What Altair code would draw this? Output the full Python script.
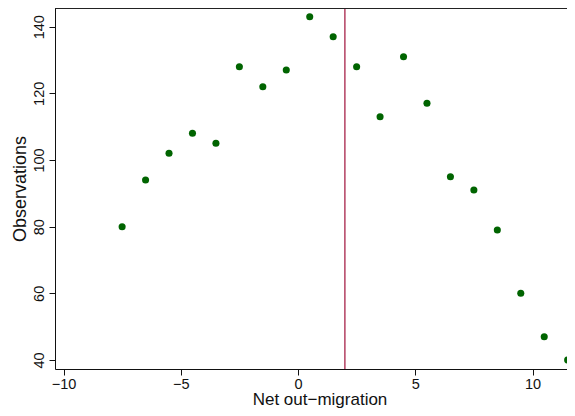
import altair as alt
import pandas as pd

# Data
net_out_migration = [-7.5, -6.5, -5.5, -4.5, -3.5, -2.5, -1.5, -0.5, 0.5, 1.5,
                     2.5, 3.5, 4.5, 5.5, 6.5, 7.5, 8.5, 9.5, 10.5, 11.5]
observations = [80, 94, 102, 108, 105, 128, 122, 127, 143, 137,
                128, 113, 131, 117, 95, 91, 79, 60, 47, 40]
cutoff = [2]
x_ticks = [-10, -5, 0, 5, 10]
y_ticks = [40, 60, 80, 100, 120, 140]

df = pd.DataFrame({"x": net_out_migration, "y": observations})
cut_df = pd.DataFrame({"x": cutoff})

W, H = 512, 361
FONT = "Liberation Sans"

xscale = alt.Scale(domain=[-10.3625, 11.471], nice=False, zero=False)
yscale = alt.Scale(domain=[37.3, 145.6], nice=False, zero=False)

points = alt.Chart(df).mark_circle(size=50, color="#006400", opacity=1, clip=True).encode(
    x=alt.X("x:Q", scale=xscale,
            axis=alt.Axis(title="Net out\u2212migration", values=x_ticks, grid=False,
                          tickSize=6, labelPadding=2, labelFontSize=14.5,
                          labelFont=FONT, labelColor="#111", titleFont=FONT,
                          titleFontSize=17, titleFontWeight="normal", titleColor="#111",
                          titleX=264.5, titleY=35, titleAlign="center",
                          titleBaseline="alphabetic", domainColor="#111",
                          tickColor="#111", labelFlush=False)),
    y=alt.Y("y:Q", scale=yscale,
            axis=alt.Axis(title="Observations", values=y_ticks, grid=False,
                          tickSize=6, labelPadding=6, labelFontSize=14.5,
                          labelAngle=270, labelAlign="center", labelBaseline="alphabetic",
                          labelFont=FONT, labelColor="#111", titleFont=FONT,
                          titleFontSize=18, titleFontWeight="normal", titleColor="#111",
                          titleAngle=270, titleX=-30, titleY=H / 2, titleAlign="center",
                          titleBaseline="alphabetic", domainColor="#111",
                          tickColor="#111", labelFlush=False)),
)

vline = alt.Chart(cut_df).mark_rule(color="#A0103A", strokeWidth=1.2).encode(
    x=alt.X("x:Q", scale=xscale),
)

top_border = alt.Chart(cut_df).mark_rule(color="#222", strokeWidth=1).encode(
    x=alt.value(0), x2=alt.value(W), y=alt.value(0.5)
)

chart = alt.layer(points, vline, top_border).properties(
    width=W, height=H,
    autosize=alt.AutoSizeParams(type="none"),
    padding={"left": 47, "top": 0, "right": 0, "bottom": 39},
).configure_view(stroke=None)

chart.save("out.html", embed_options={"renderer": "svg", "actions": False})
